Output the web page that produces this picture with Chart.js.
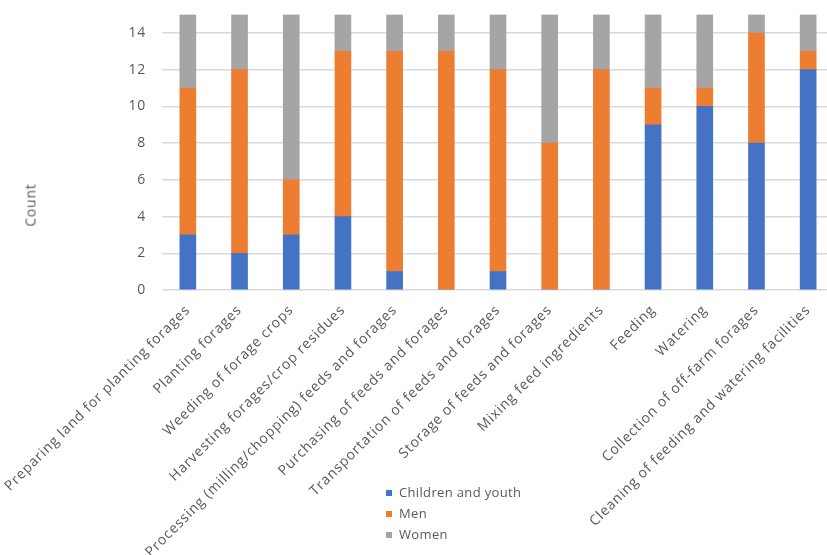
<!DOCTYPE html>
<html>
<head>
<meta charset="utf-8">
<script src="https://cdn.jsdelivr.net/npm/chart.js@4.4.1/dist/chart.umd.min.js"></script>
<style>
  body { margin:0; background:#fff; overflow:hidden; }
  #wrap { position:relative; width:827px; height:555px; overflow:hidden; }
  #yTitle { position:absolute; left:30px; top:205px; transform:translate(-50%,-50%) rotate(-90deg);
    font:14px "Open Sans", sans-serif; letter-spacing:0.8px; color:#595959; white-space:nowrap; }
  #legend { position:absolute; left:386px; top:482px; font:13px "Open Sans", sans-serif; letter-spacing:0.35px; color:#595959; }
  #legend div { height:21px; line-height:21px; white-space:nowrap; }
  #legend span { display:inline-block; width:6px; height:6px; margin-right:7px; vertical-align:1px; }
</style>
</head>
<body>
<div id="wrap">
  <canvas id="chart" width="834" height="555"></canvas>
  <div id="yTitle">Count</div>
  <div id="legend"></div>
</div>
<script>
// activities
var labels = [
  "Preparing land for planting forages",
  "Planting forages",
  "Weeding of forage crops",
  "Harvesting forages/crop residues",
  "Processing (milling/chopping) feeds and forages",
  "Purchasing of feeds and forages",
  "Transportation of feeds and forages",
  "Storage of feeds and forages",
  "Mixing feed ingredients",
  "Feeding",
  "Watering",
  "Collection of off-farm forages",
  "Cleaning of feeding and watering facilities"
];
var children = [3, 2, 3, 4, 1, 0, 1, 0, 0, 9, 10, 8, 12];
var men      = [8, 10, 3, 9, 12, 13, 11, 8, 12, 2, 1, 6, 1];
var women    = [4, 3, 9, 2, 2, 2, 3, 7, 3, 4, 4, 1, 2];
var seriesNames = ["Children and youth", "Men", "Women"];
var colors = ["#4472C4", "#ED7D31", "#A5A5A5"];

var txt = "#595959";
var ctx = document.getElementById('chart').getContext('2d');
var allData = [children, men, women];

// the source text is spaced a bit wider than the font
var spacing = {
  id: 'spacing',
  beforeUpdate: function(c) { c.ctx.letterSpacing = '0.8px'; },
  beforeDraw: function(c) { c.ctx.letterSpacing = '0.8px'; }
};

new Chart(ctx, {
  type: 'bar',
  data: {
    labels: labels,
    datasets: allData.map(function(d, i) {
      return {
        label: seriesNames[i],
        data: d,
        backgroundColor: colors[i],
        borderWidth: 0,
        barThickness: 16
      };
    })
  },
  plugins: [spacing],
  options: {
    responsive: false,
    animation: false,
    layout: { padding: { top: 14.6, left: 0, right: 0, bottom: 0 } },
    plugins: { legend: { display: false }, tooltip: { enabled: false } },
    scales: {
      x: {
        stacked: true,
        grid: { display: false, drawTicks: false },
        border: { display: false },
        ticks: {
          color: txt,
          font: { family: "Open Sans", size: 14 },
          maxRotation: 45,
          minRotation: 45,
          autoSkip: false,
          padding: 12
        },
        afterFit: function(s) {
          s.height = 265;
          s.paddingLeft = 0;
          s.paddingRight = 0;
        }
      },
      y: {
        stacked: true,
        min: 0,
        max: 15,
        border: { display: false },
        grid: { color: "#D9D9D9", lineWidth: 1.5, drawTicks: true, tickLength: 14, tickColor: "rgba(0,0,0,0)" },
        ticks: {
          stepSize: 2,
          includeBounds: false,
          color: txt,
          font: { family: "Open Sans", size: 14 },
          padding: 2
        },
        afterFit: function(s) {
          s.width = 162;
          s.paddingTop = 0;
          s.paddingBottom = 0;
        }
      }
    }
  }
});

// legend
var lg = document.getElementById('legend');
seriesNames.forEach(function(n, i) {
  var row = document.createElement('div');
  row.innerHTML = '<span style="background:' + colors[i] + '"></span>' + n;
  lg.appendChild(row);
});
</script>
</body>
</html>
